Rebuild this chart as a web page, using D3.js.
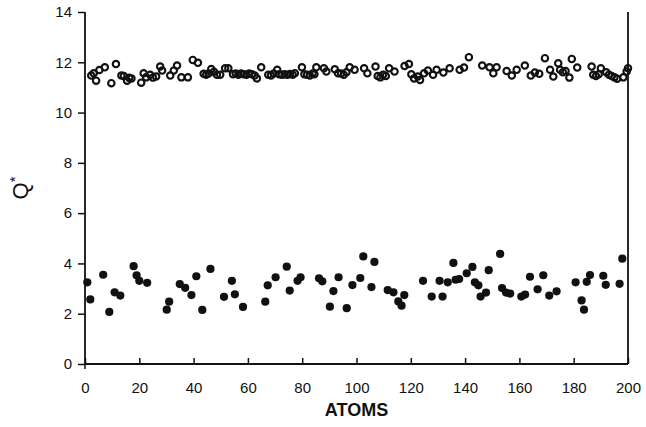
<!DOCTYPE html>
<html>
<head>
<meta charset="utf-8">
<script src="https://cdn.jsdelivr.net/npm/d3@7"></script>
<style>
  html, body { margin: 0; padding: 0; background: #fff; }
  svg text { font-family: "Liberation Sans", Arial, sans-serif; fill: #111; }
</style>
</head>
<body>
<div id="chart"></div>
<script>
// atom index and Q* value
let openAtoms = [2.3, 3.2, 4.1, 5.3, 7.3, 9.7, 11.4, 13.4, 14.3, 15.5, 16.3, 17.1, 20.7, 21.6, 22.5, 24, 25, 26.2, 27.7, 28.4,
  31.4, 32.7, 33.9, 35.5, 37.9, 39.7, 41.6, 43.7, 44.6, 45.5, 46.5, 47.5, 48.6, 49.8, 51.6, 52.8,
  54.5, 55.5, 56.5, 57.5, 58.5, 59.5, 60.5, 61.5, 62.5, 63.3, 64.9,
  67.5, 68.5, 69.5, 70.8, 71.5, 72.5, 73.5, 74.5, 75.5, 76.5, 77.3, 79.9,
  80.8, 81.8, 82.8, 83.8, 84.5, 85.2, 88, 88.9, 92, 93.2, 94.3, 95.3, 96.3, 97.5, 99.3,
  102.8, 104, 107, 107.8, 108.8, 109.8, 110.8, 112, 114, 117.7, 119.3, 120.2, 121.2, 122.6, 123.4, 124.9, 126.3,
  128.2, 129.5, 132, 134.3, 138, 139.6, 141.4, 146.3, 149, 150.4, 151.6, 155.3, 157.2, 159, 162, 164.2, 165.7,
  167.3, 169.4, 171.3, 172.5, 174.3, 175, 176, 177, 178.4, 179.3, 181.3, 186.6, 187.2, 188.2, 189.2, 190,
  192, 193, 194, 195, 196, 198.3, 199.5, 200];
let openQ = [11.47, 11.56, 11.27, 11.69, 11.80, 11.17, 11.93, 11.47, 11.45, 11.27, 11.38, 11.36, 11.19, 11.56, 11.40, 11.50, 11.39, 11.43, 11.83, 11.67,
  11.47, 11.67, 11.87, 11.40, 11.40, 12.09, 11.98, 11.54, 11.50, 11.55, 11.73, 11.62, 11.50, 11.50, 11.76, 11.76,
  11.52, 11.55, 11.50, 11.55, 11.52, 11.50, 11.55, 11.52, 11.47, 11.36, 11.80,
  11.50, 11.47, 11.55, 11.70, 11.52, 11.50, 11.52, 11.50, 11.53, 11.50, 11.56, 11.80,
  11.52, 11.50, 11.47, 11.55, 11.52, 11.80, 11.76, 11.63, 11.72, 11.56, 11.55, 11.50, 11.60, 11.80, 11.70,
  11.76, 11.56, 11.83, 11.45, 11.40, 11.50, 11.45, 11.76, 11.63, 11.85, 11.93, 11.52, 11.36, 11.43, 11.30, 11.56, 11.67,
  11.50, 11.70, 11.59, 11.76, 11.70, 11.79, 12.20, 11.87, 11.80, 11.56, 11.80, 11.65, 11.47, 11.70, 11.87, 11.47, 11.59,
  11.54, 12.16, 11.70, 11.43, 11.96, 11.70, 11.60, 11.65, 11.39, 12.13, 11.79, 11.83, 11.50, 11.45, 11.52, 11.76,
  11.60, 11.50, 11.45, 11.40, 11.35, 11.40, 11.63, 11.76];

let filledAtoms = [0.85, 1.95, 6.7, 8.95, 10.9, 13.0, 17.9, 19.0, 20.0, 22.9, 30.1, 31.0, 34.9, 36.9, 39.2, 41.0, 43.2, 46.2,
  51.2, 54.1, 55.2, 58.2, 66.4, 67.3, 70.2, 74.3, 75.4, 78.3, 79.4, 86.2, 87.4, 90.2, 91.5, 93.4, 96.4, 98.5,
  101.4, 102.5, 105.5, 106.6, 111.5, 113.6, 115.4, 116.6, 117.6, 124.5, 127.7, 130.6, 131.7, 133.6,
  135.7, 136.5, 137.8, 140.6, 142.7, 143.6, 144.9, 145.7, 147.7, 148.7, 152.9, 153.6, 155.1, 156.6,
  160.7, 162.1, 163.9, 166.7, 168.8, 171.0, 173.7, 180.7, 182.9, 183.8, 184.8, 186.0, 190.9, 191.8, 196.9, 197.9];
let filledQ = [3.25, 2.57, 3.55, 2.07, 2.85, 2.72, 3.89, 3.53, 3.31, 3.23, 2.16, 2.48, 3.18, 3.03, 2.74, 3.49, 2.15, 3.78,
  2.67, 3.31, 2.77, 2.27, 2.48, 3.13, 3.45, 3.87, 2.92, 3.31, 3.45, 3.41, 3.29, 2.28, 2.90, 3.45, 2.22, 3.14,
  3.42, 4.28, 3.06, 4.06, 2.94, 2.85, 2.49, 2.32, 2.74, 3.31, 2.68, 3.31, 2.68, 3.25,
  4.02, 3.35, 3.38, 3.61, 3.86, 3.25, 3.13, 2.68, 2.84, 3.73, 4.38, 3.02, 2.84, 2.80,
  2.68, 2.76, 3.47, 2.97, 3.53, 2.72, 2.89, 3.25, 2.53, 2.16, 3.27, 3.54, 3.51, 3.15, 3.19, 4.19];

let xTicks = [0, 20, 40, 60, 80, 100, 120, 140, 160, 180, 200];
let yTicks = [0, 2, 4, 6, 8, 10, 12, 14];

let svg = d3.select("#chart")
            .append("svg")
            .attr("width", 646)
            .attr("height", 427);

let x = d3.scaleLinear().domain([0, 200]).range([85, 628]);
let y = d3.scaleLinear().domain([0, 14]).range([364, 12]);

// y axis, ticks outward
let yAxis = svg.append("g")
   .attr("transform", "translate(" + x(0) + ",0)")
   .call(d3.axisLeft(y).tickValues(yTicks).tickSize(7).tickPadding(6));

// x axis, ticks point up into the plot
let xAxis = svg.append("g")
   .attr("transform", "translate(0," + y(0) + ")")
   .call(d3.axisBottom(x).tickValues(xTicks).tickSize(-6).tickPadding(18));

[xAxis, yAxis].forEach(function(g){
    g.select(".domain").attr("stroke", "#111").attr("stroke-width", 1.8);
    g.selectAll(".tick line").attr("stroke", "#111").attr("stroke-width", 1.5);
    g.selectAll(".tick text")
     .style("font-size", "15px")
     .style("font-family", "'Liberation Sans', Arial, sans-serif")
     .attr("fill", "#111");
});
xAxis.select(".domain").attr("d", "M" + x(0) + ",0H" + x(200));
yAxis.select(".domain").attr("d", "M0," + y(0) + "V" + y(14));

// the little stub below the origin
svg.append("line")
   .attr("x1", x(0)).attr("x2", x(0))
   .attr("y1", y(0)).attr("y2", y(0) + 5)
   .attr("stroke", "#111").attr("stroke-width", 1.5);

// right frame line
svg.append("line")
   .attr("x1", x(200)).attr("x2", x(200))
   .attr("y1", y(14)).attr("y2", y(0))
   .attr("stroke", "#111").attr("stroke-width", 1.8);

// open circles (thick rings, so close neighbours merge into dark runs)
svg.append("g").selectAll("circle")
   .data(openAtoms)
   .join("circle")
   .attr("cx", function(d){ return x(d); })
   .attr("cy", function(d, i){ return y(openQ[i]); })
   .attr("r", 3.2)
   .attr("fill", "none")
   .attr("stroke", "#111")
   .attr("stroke-width", 2.1);

// filled circles
svg.append("g").selectAll("circle")
   .data(filledAtoms)
   .join("circle")
   .attr("cx", function(d){ return x(d); })
   .attr("cy", function(d, i){ return y(filledQ[i]); })
   .attr("r", 4.1)
   .attr("fill", "#111");

// axis titles
svg.append("text")
   .attr("x", (x(0) + x(200)) / 2)
   .attr("y", 416)
   .attr("text-anchor", "middle")
   .style("font-size", "18px")
   .style("font-weight", "bold")
   .text("ATOMS");

let yTitle = svg.append("text")
   .attr("transform", "translate(28," + y(7) + ") rotate(-90)")
   .attr("text-anchor", "middle")
   .style("font-size", "22px");
yTitle.append("tspan").text("Q");
yTitle.append("tspan").attr("dy", -8).style("font-size", "15px").text("*");
</script>
</body>
</html>
